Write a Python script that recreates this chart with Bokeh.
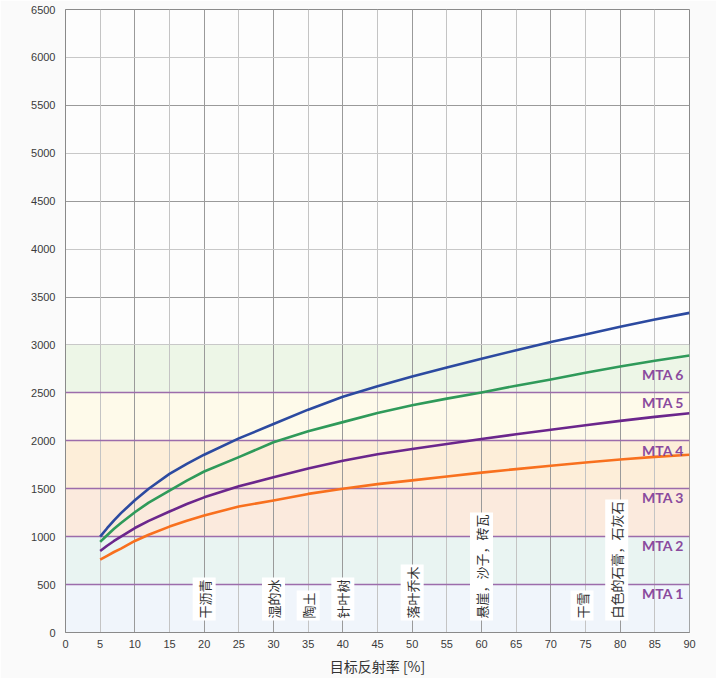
from bokeh.plotting import figure
from bokeh.models import Range1d, FixedTicker, Grid, ColumnDataSource, Label
from bokeh.core.properties import value
from bokeh.embed import file_html
from bokeh.resources import INLINE

# Target reflectivity [%]
reflectivity = [5, 6, 7, 8, 10, 12, 15, 17.5, 20, 25, 30, 35, 40, 45, 50, 55, 60, 65, 70, 75, 80, 85, 90]

# Maximum measuring range [m] for each device class
range_blue = [1000, 1088, 1170, 1245, 1380, 1500, 1655, 1760, 1855, 2025, 2175, 2325, 2460, 2570,
              2670, 2765, 2855, 2945, 3030, 3110, 3190, 3265, 3335]
range_green = [945, 1015, 1082, 1142, 1255, 1355, 1480, 1585, 1680, 1830, 1985, 2100, 2195, 2290,
               2370, 2440, 2505, 2575, 2640, 2710, 2775, 2835, 2890]
range_purple = [850, 905, 955, 1000, 1090, 1165, 1262, 1340, 1410, 1525, 1620, 1712, 1792, 1860,
                1915, 1966, 2018, 2068, 2115, 2162, 2208, 2250, 2287]
range_orange = [760, 800, 840, 875, 955, 1020, 1105, 1165, 1220, 1315, 1378, 1446, 1500, 1548,
                1587, 1628, 1668, 1705, 1740, 1773, 1805, 1832, 1855]

# MTA classes: band limits and names
mta_bottom = [0, 500, 1000, 1500, 2000, 2500]
mta_top = [500, 1000, 1500, 2000, 2500, 3000]
mta_names = ["MTA 1", "MTA 2", "MTA 3", "MTA 4", "MTA 5", "MTA 6"]
mta_label_y = [405, 908, 1404, 1896, 2400, 2694]
mta_colors = ["#f0f5fb", "#e9f4f2", "#fbeadd", "#fdeed9", "#fefaea", "#edf6e7"]

# Typical surfaces and their reflectivity
material_x = [20, 30, 35, 40, 50, 60, 74.5, 79.5]
material_names = ["干沥青", "湿的冰", "陶土", "针叶树", "落叶乔木", "悬崖，沙子，砖瓦", "干雪", "白色的石膏，石灰石"]

x_ticks = list(range(0, 95, 5))
y_ticks = list(range(0, 7000, 500))

p = figure(width=716, height=678, output_backend="svg", toolbar_location=None,
           x_range=Range1d(0, 90), y_range=Range1d(0, 6500),
           min_border_left=65, min_border_right=27, min_border_top=9, min_border_bottom=44)
p.background_fill_color = "#fdfdfd"
p.border_fill_color = "#fafafa"
p.outline_line_color = "#8a8a8a"
p.outline_line_width = 1

# Background bands for the MTA classes
p.quad(left=0, right=90, bottom=mta_bottom, top=mta_top, fill_color=mta_colors,
       line_color=None, level="image")

# Grid lines
p.xgrid.ticker = FixedTicker(ticks=[t for t in x_ticks if t % 10 == 0])
p.xgrid.grid_line_color = "#9a9a9a"
p.xgrid.grid_line_width = 1
p.add_layout(Grid(dimension=0, ticker=FixedTicker(ticks=[t for t in x_ticks if t % 10 == 5]),
                  grid_line_color="#c4c4c4", grid_line_width=1))
p.ygrid.ticker = FixedTicker(ticks=[3500, 4500, 5500, 6500])
p.ygrid.grid_line_color = "#9a9a9a"
p.add_layout(Grid(dimension=1, ticker=FixedTicker(ticks=[3000, 4000, 5000, 6000]),
                  grid_line_color="#c8c8c8", grid_line_width=1))
p.add_layout(Grid(dimension=1, ticker=FixedTicker(ticks=mta_top[:-1]),
                  grid_line_color="#9c6cab", grid_line_width=1.6))

# Range curves
for ys, col in [(range_orange, "#f8701e"), (range_purple, "#6b268c"),
                (range_green, "#2f9a5a"), (range_blue, "#2c4aa0")]:
    p.line(reflectivity, ys, line_color=col, line_width=2.6, line_join="round")

# Surface labels
mat_src = ColumnDataSource(dict(x=material_x, y=[125] * len(material_x), t=material_names))
p.text(x="x", y="y", text="t", source=mat_src, angle=1.5708, text_align="left",
       text_baseline="middle", text_font=value("Noto Sans CJK SC"), text_font_size="13px",
       text_color="#333333", background_fill_color="white", padding=2)

# MTA class labels
mta_src = ColumnDataSource(dict(x=[89.2] * len(mta_names), y=mta_label_y, t=mta_names))
p.text(x="x", y="y", text="t", source=mta_src, text_align="right", text_baseline="middle",
       text_font=value("Lato"), text_font_style="bold", text_font_size="14px",
       text_color="#8a4a9e")

# Axes
p.xaxis.ticker = FixedTicker(ticks=x_ticks)
p.yaxis.ticker = FixedTicker(ticks=y_ticks)
for ax in (p.xaxis[0], p.yaxis[0]):
    ax.major_tick_out = 0
    ax.major_tick_in = 0
    ax.minor_tick_out = 0
    ax.minor_tick_in = 0
    ax.axis_line_color = "#8a8a8a"
    ax.major_label_text_font = "Liberation Sans"
    ax.major_label_text_font_size = "11px"
    ax.major_label_text_color = "#3a3a3a"
p.xaxis.major_label_standoff = 7
p.yaxis.major_label_standoff = 10
p.xaxis.axis_label = "目标反射率 [%]"
p.xaxis.axis_label_text_font = "Noto Sans CJK SC"
p.xaxis.axis_label_text_font_style = "normal"
p.xaxis.axis_label_text_font_size = "14px"
p.xaxis.axis_label_text_color = "#333333"
p.xaxis.axis_label_standoff = 5

p.add_layout(Label(x=-6.2, y=1945, text="最大测量范围 [m]", angle=1.5708,
                   text_align="center", text_baseline="middle",
                   text_font="Noto Sans CJK SC", text_font_size="13px", text_color="#333333"))

open("out.html", "w").write(file_html(p, INLINE))
